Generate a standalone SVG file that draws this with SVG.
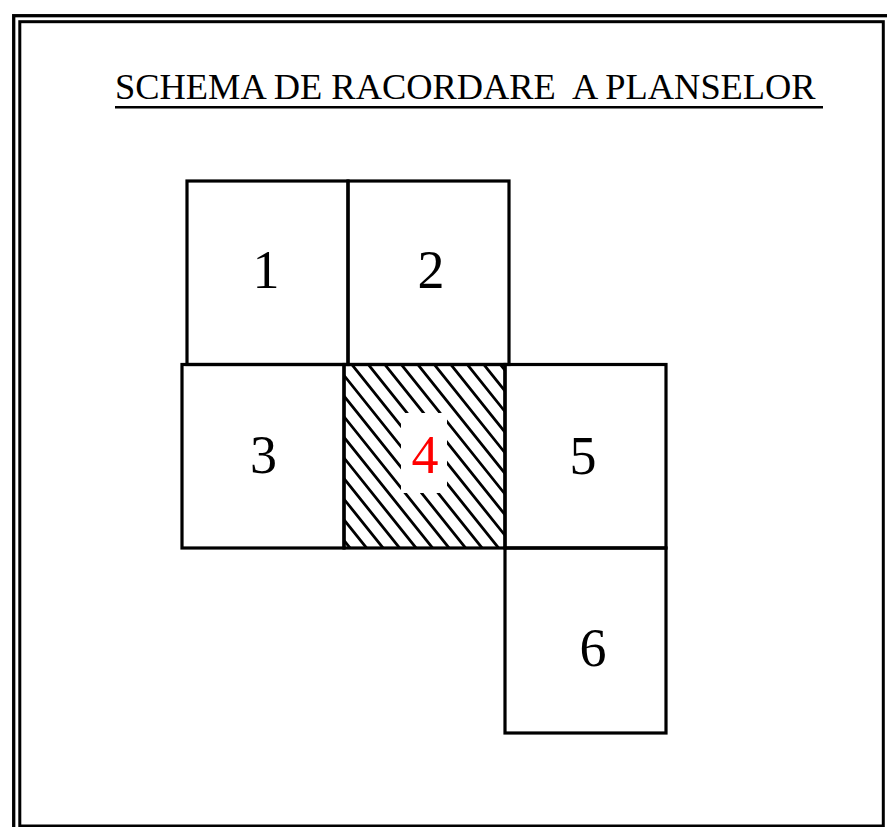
<svg xmlns="http://www.w3.org/2000/svg" width="887" height="827" viewBox="0 0 887 827">
  <style>
    .frame { fill: none; stroke: #000; }
    .box { fill: none; stroke: #000; stroke-width: 3.2; }
    .num { font-family: "Liberation Serif", "Times New Roman", serif; font-size: 54px; text-anchor: middle; fill: #000; }
    .title { font-family: "Liberation Serif", "Times New Roman", serif; font-size: 36.4px; fill: #000; }
    .hatch { fill: none; stroke: #000; stroke-width: 2.8; }
  </style>
  <defs>
    <clipPath id="clip4">
      <rect x="344" y="364.5" width="161" height="183.5"/>
    </clipPath>
  </defs>
  <rect width="887" height="827" fill="#fff"/>

  <g id="frame">
    <rect class="frame" x="13.7" y="15.7" width="900" height="840" stroke-width="3.3"/>
    <rect class="frame" x="19.8" y="21.7" width="863.5" height="804.3" stroke-width="3"/>
  </g>

  <g id="title">
    <text class="title" x="115" y="99" xml:space="preserve">SCHEMA DE RACORDARE  A PLANSELOR</text>
    <line x1="115" y1="107.3" x2="823" y2="107.3" stroke="#000" stroke-width="2.6"/>
  </g>

  <g id="connectors"></g>

  <g id="node4">
    <g clip-path="url(#clip4)">
      <path class="hatch" d="M199.7,360L355.7,555 M216.2,360L372.2,555 M232.7,360L388.7,555 M249.2,360L405.2,555 M265.7,360L421.7,555 M282.2,360L438.2,555 M298.7,360L454.7,555 M315.2,360L471.2,555 M331.7,360L487.7,555 M348.2,360L504.2,555 M364.7,360L520.7,555 M381.2,360L537.2,555 M397.7,360L553.7,555 M414.2,360L570.2,555 M430.7,360L586.7,555 M447.2,360L603.2,555 M463.7,360L619.7,555 M480.2,360L636.2,555 M496.7,360L652.7,555"/>
    </g>
    <rect x="401" y="413" width="46" height="80" fill="#fff"/>
    <rect class="box" x="344" y="364.5" width="161" height="183.5"/>
    <text class="num" x="425" y="473" fill="#ff0000" style="fill:#ff0000">4</text>
  </g>

  <g id="node1">
    <rect class="box" x="187" y="181" width="161" height="183.5"/>
    <text class="num" x="266" y="288">1</text>
  </g>
  <g id="node2">
    <rect class="box" x="348" y="181" width="161" height="183.5"/>
    <text class="num" x="431" y="288">2</text>
  </g>
  <g id="node3">
    <rect class="box" x="182" y="364.5" width="162" height="183.5"/>
    <text class="num" x="263.5" y="473">3</text>
  </g>
  <g id="node5">
    <rect class="box" x="505" y="364.5" width="161" height="183.5"/>
    <text class="num" x="583" y="474">5</text>
  </g>
  <g id="node6">
    <rect class="box" x="505" y="548" width="161" height="185"/>
    <text class="num" x="593" y="666">6</text>
  </g>
</svg>
